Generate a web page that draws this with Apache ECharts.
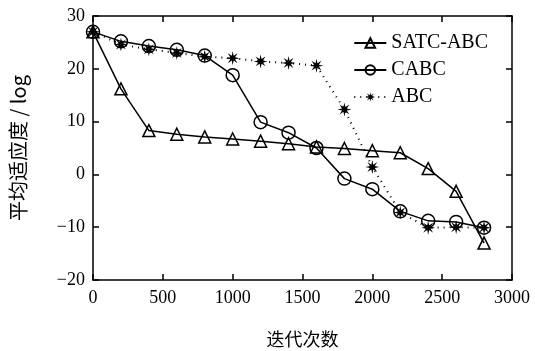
<!DOCTYPE html>
<html>
<head>
<meta charset="utf-8">
<script src="https://cdn.jsdelivr.net/npm/echarts@6/dist/echarts.min.js"></script>
<style>
  html, body { margin: 0; padding: 0; background: #fff; }
  #chart { width: 535px; height: 351px; }
</style>
</head>
<body>
<div id="chart"></div>
<script>
const iterations = [0, 200, 400, 600, 800, 1000, 1200, 1400, 1600, 1800, 2000, 2200, 2400, 2600, 2800]
const satcAbc = [27, 16.2, 8.3, 7.6, 7.1, 6.7, 6.3, 5.8, 5.2, 4.9, 4.5, 4.1, 1.1, -3.2, -13]
const cabc = [27, 25.2, 24.3, 23.6, 22.5, 18.8, 9.9, 7.9, 5.0, -0.8, -2.8, -7.0, -8.8, -9.0, -10.1]
const abc = [27, 24.6, 23.7, 23.0, 22.3, 22.0, 21.4, 21.1, 20.6, 12.3, 1.4, -7.2, -10.1, -10.0, -10.1]
const xTicks = [0, 500, 1000, 1500, 2000, 2500, 3000]
const yTicks = [-20, -10, 0, 10, 20, 30]

const serif = 'Liberation Serif'
const asterisk = 'path://M0,-10L1.4,-3.4L7.07,-7.07L3.4,-1.4L10,0L3.4,1.4L7.07,7.07L1.4,3.4L0,10L-1.4,3.4L-7.07,7.07L-3.4,1.4L-10,0L-3.4,-1.4L-7.07,-7.07L-1.4,-3.4Z'

const pairs = ys => iterations.map((x, i) => [x, ys[i]])

const chart = echarts.init(document.getElementById('chart'))

const axisLine = { show: true, onZero: false, lineStyle: { color: '#000', width: 1.5 } }
const axisTick = { show: true, inside: true, length: 6, lineStyle: { color: '#000', width: 1.5 } }

chart.setOption({
    animation: false,
    grid: { left: 93, right: 23, top: 16, bottom: 71, outerBoundsMode: 'none', containLabel: false },
    legend: {
        orient: 'vertical',
        right: 42,
        top: 28,
        itemWidth: 32,
        itemHeight: 12,
        itemGap: 7,
        textStyle: { fontFamily: serif, fontSize: 20, color: '#000' },
        data: ['SATC-ABC', 'CABC', 'ABC']
    },
    xAxis: [
        {
            type: 'value',
            min: xTicks[0],
            max: xTicks[xTicks.length - 1],
            interval: 500,
            name: '迭代次数',
            nameLocation: 'middle',
            nameGap: 50,
            nameTextStyle: { fontFamily: 'Noto Sans CJK SC', fontSize: 18, color: '#000' },
            axisLine,
            axisTick,
            axisLabel: { fontFamily: serif, fontSize: 18, color: '#000', margin: 9, formatter: v => String(v) },
            splitLine: { show: false }
        },
        {
            type: 'value',
            position: 'top',
            min: xTicks[0],
            max: xTicks[xTicks.length - 1],
            interval: 500,
            axisLine,
            axisTick,
            axisLabel: { show: false },
            splitLine: { show: false }
        }
    ],
    yAxis: [
        {
            type: 'value',
            min: yTicks[0],
            max: yTicks[yTicks.length - 1],
            interval: 10,
            name: '平均适应度 / log',
            nameLocation: 'middle',
            nameGap: 65,
            nameTextStyle: { fontFamily: 'Noto Sans CJK SC', fontSize: 20, color: '#000' },
            axisLine,
            axisTick,
            axisLabel: {
                fontFamily: serif, fontSize: 18, color: '#000', margin: 8,
                formatter: v => (v < 0 ? '\u2212' + Math.abs(v) : String(v))
            },
            splitLine: { show: false }
        },
        {
            type: 'value',
            position: 'right',
            min: yTicks[0],
            max: yTicks[yTicks.length - 1],
            interval: 10,
            axisLine,
            axisTick,
            axisLabel: { show: false },
            splitLine: { show: false }
        }
    ],
    series: [
        {
            name: 'ABC',
            type: 'line',
            data: pairs(abc),
            symbol: asterisk,
            symbolSize: 14,
            itemStyle: { color: '#000', borderWidth: 0 },
            lineStyle: { color: '#000', width: 2, type: [1, 5] },
            z: 2
        },
        {
            name: 'CABC',
            type: 'line',
            data: pairs(cabc),
            symbol: 'circle',
            symbolSize: 13,
            showAllSymbol: true,
            itemStyle: { color: 'rgba(255,255,255,0)', borderColor: '#000', borderWidth: 1.5 },
            lineStyle: { color: '#000', width: 1.5 },
            z: 3
        },
        {
            name: 'SATC-ABC',
            type: 'line',
            data: pairs(satcAbc),
            symbol: 'triangle',
            symbolSize: 12,
            itemStyle: { color: 'rgba(255,255,255,0)', borderColor: '#000', borderWidth: 1.5 },
            lineStyle: { color: '#000', width: 1.5 },
            z: 4
        }
    ]
})
</script>
</body>
</html>
